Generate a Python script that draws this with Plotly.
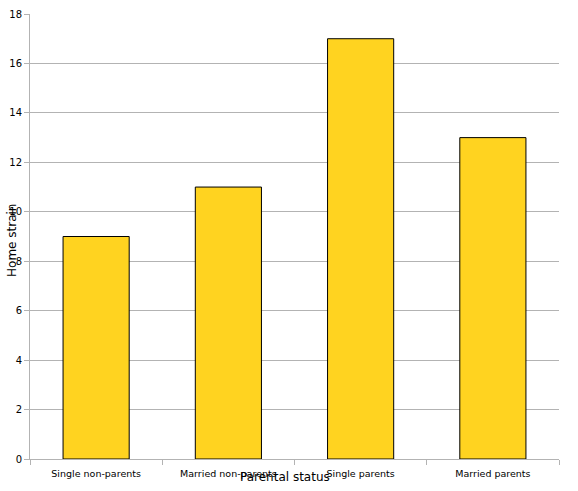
import plotly.graph_objects as go

categories = ["Single non-parents", "Married non-parents", "Single parents", "Married parents"]
home_strain = [9, 11, 17, 13]
y_ticks = [0, 2, 4, 6, 8, 10, 12, 14, 16, 18]

fig = go.Figure(go.Bar(
    x=categories, y=home_strain,
    marker=dict(color="#FFD320", line=dict(color="#000000", width=1)),
))

fig.update_layout(
    width=578, height=491,
    margin=dict(l=30, r=19, t=14, b=32, autoexpand=False),
    paper_bgcolor="white", plot_bgcolor="white",
    bargap=0.5,
    showlegend=False,
    font=dict(family="DejaVu Sans", color="#000000"),
)
fig.update_xaxes(
    automargin=False,
    showline=True, linecolor="#b3b3b3", linewidth=1,
    ticks="outside", tickson="boundaries", ticklen=5, tickcolor="#b3b3b3",
    tickfont=dict(size=9.5), showgrid=False, ticklabelstandoff=6,
)
fig.update_yaxes(
    automargin=False,
    range=[0, 18], tickvals=y_ticks,
    showline=True, linecolor="#b3b3b3", linewidth=1,
    ticks="outside", ticklen=5, tickcolor="#b3b3b3",
    showgrid=True, gridcolor="#b3b3b3", gridwidth=1,
    tickfont=dict(size=10), zeroline=False,
)
fig.add_annotation(text="Home strain", xref="paper", yref="paper", x=-0.034, y=0.49,
                   textangle=-90, showarrow=False, font=dict(size=12), xanchor="center", yanchor="middle")
fig.add_annotation(text="Parental status", xref="paper", yref="paper", x=0.482, y=-0.04,
                   showarrow=False, font=dict(size=12), xanchor="center", yanchor="middle")
fig.write_html("out.html", config={"displayModeBar": False},
               post_script="document.body.style.margin='0';")
